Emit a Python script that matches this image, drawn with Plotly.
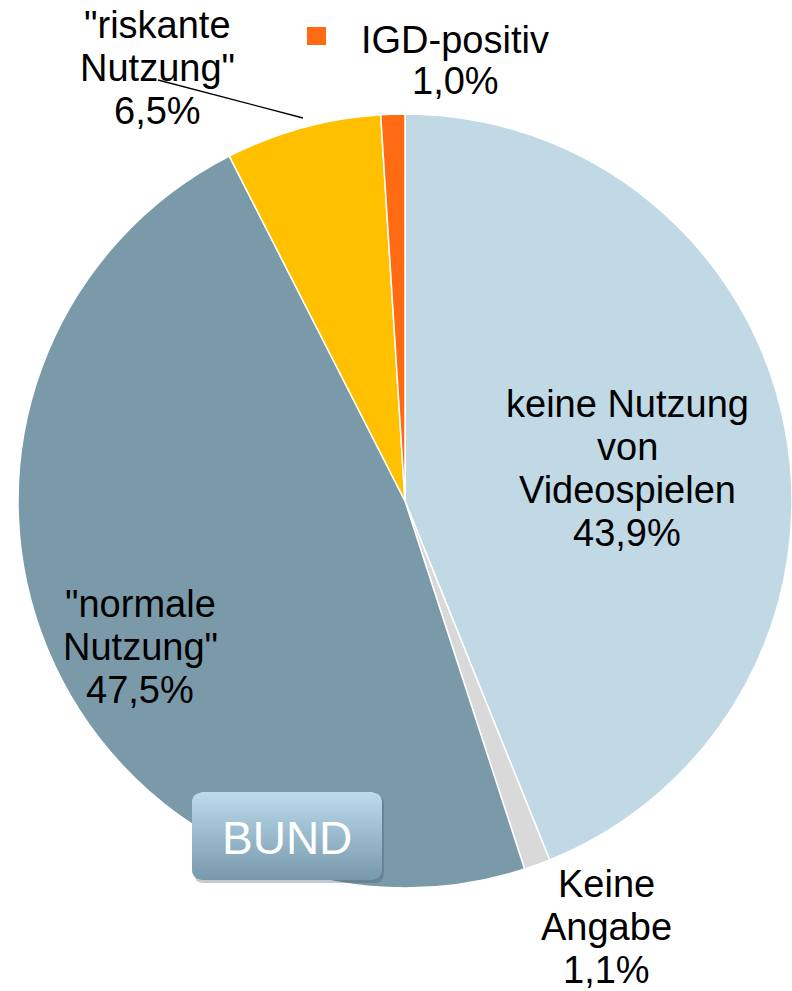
import plotly.graph_objects as go
import math

labels = ["keine Nutzung von Videospielen", "Keine Angabe", "\"normale Nutzung\"", "\"riskante Nutzung\"", "IGD-positiv"]
values = [43.9, 1.1, 47.5, 6.5, 1.0]
colors = ["#C0D9E5", "#D9D9D9", "#7B9AA9", "#FFC000", "#FF6A13"]
label_lines = [
    ["keine Nutzung", "von", "Videospielen"],
    ["Keine", "Angabe"],
    ["\"normale", "Nutzung\""],
    ["\"riskante", "Nutzung\""],
    ["IGD-positiv"],
]

W, H = 792, 991
fig = go.Figure()
fig.add_trace(go.Pie(
    labels=labels, values=values, sort=False, direction="clockwise", rotation=0,
    marker=dict(colors=colors, line=dict(color="white", width=1.5)),
    textinfo="none", hoverinfo="label+percent", showlegend=False,
    domain=dict(x=[18/W, 1.0], y=[1-888/H, 1-114/H]),
))

FONT = "Liberation Sans, Arial, sans-serif"
FS = 38
LH = 43

def fmt(v):
    return f"{v:.1f}".replace(".", ",") + "%"

# (label index, x centre, y of first line)
placements = [(0, 627, 404), (1, 606, 884), (2, 140, 604), (3, 157, 25), (4, 455, 40)]
for idx, x, y0 in placements:
    lines = label_lines[idx] + [fmt(values[idx])]
    step = LH if idx != 4 else 41
    for j, t in enumerate(lines):
        fig.add_annotation(x=x, y=y0 + j * step, xref="x", yref="y", text=t, showarrow=False,
                           font=dict(family=FONT, size=FS, color="black"), align="center")

# leader line and legend-like marker
fig.add_shape(type="line", x0=158, y0=80, x1=303, y1=118, xref="x", yref="y",
              line=dict(color="black", width=1.3), layer="above")
fig.add_shape(type="rect", x0=307, y0=27, x1=326, y1=45, xref="x", yref="y",
              fillcolor=colors[4], line=dict(width=0), layer="above")

# BUND button: rounded rectangle with vertical gradient
bx0, by0, bx1, by1, r = 192, 792, 382, 880, 10
def rrect(x0, y0, x1, y1, r):
    return (f"M{x0+r},{y0} L{x1-r},{y0} Q{x1},{y0} {x1},{y0+r} L{x1},{y1-r} Q{x1},{y1} {x1-r},{y1} "
            f"L{x0+r},{y1} Q{x0},{y1} {x0},{y1-r} L{x0},{y0+r} Q{x0},{y0} {x0+r},{y0} Z")
fig.add_shape(type="path", xref="x", yref="y", layer="above",
              path=rrect(bx0+2, by0+3, bx1+2, by1+3, r),
              fillcolor="rgba(60,80,95,0.30)", line=dict(width=0))
top = (0xBC, 0xDC, 0xEE)
bot = (0x77, 0x99, 0xAB)
N = 44
def inset(y):
    if y < by0 + r:
        d = by0 + r - y
    elif y > by1 - r:
        d = y - (by1 - r)
    else:
        return 0
    d = min(d, r)
    return r - math.sqrt(max(r*r - d*d, 0))
for i in range(N):
    ya = by0 + (by1 - by0) * i / N
    yb = min(by0 + (by1 - by0) * (i + 1) / N + 0.6, by1)
    f = (i + 0.5) / N
    c = tuple(int(top[k] + (bot[k] - top[k]) * f) for k in range(3))
    ia, ib = inset(ya), inset(yb)
    p = f"M{bx0+ia},{ya} L{bx1-ia},{ya} L{bx1-ib},{yb} L{bx0+ib},{yb} Z"
    fig.add_shape(type="path", path=p, xref="x", yref="y", layer="above",
                  fillcolor=f"rgb{c}", line=dict(width=0))
fig.add_annotation(x=(bx0+bx1)/2, y=(by0+by1)/2 + 2, xref="x", yref="y", text="BUND",
                   showarrow=False, font=dict(family=FONT, size=46, color="white"))

fig.update_layout(
    width=W, height=H, margin=dict(l=0, r=0, t=0, b=0),
    paper_bgcolor="white", plot_bgcolor="rgba(0,0,0,0)",
    xaxis=dict(range=[0, W], visible=False, fixedrange=True),
    yaxis=dict(range=[H, 0], visible=False, fixedrange=True),
)
fig.write_html("out.html", config={"displayModeBar": False},
               post_script="document.body.style.margin='0';document.body.style.overflow='hidden';")
